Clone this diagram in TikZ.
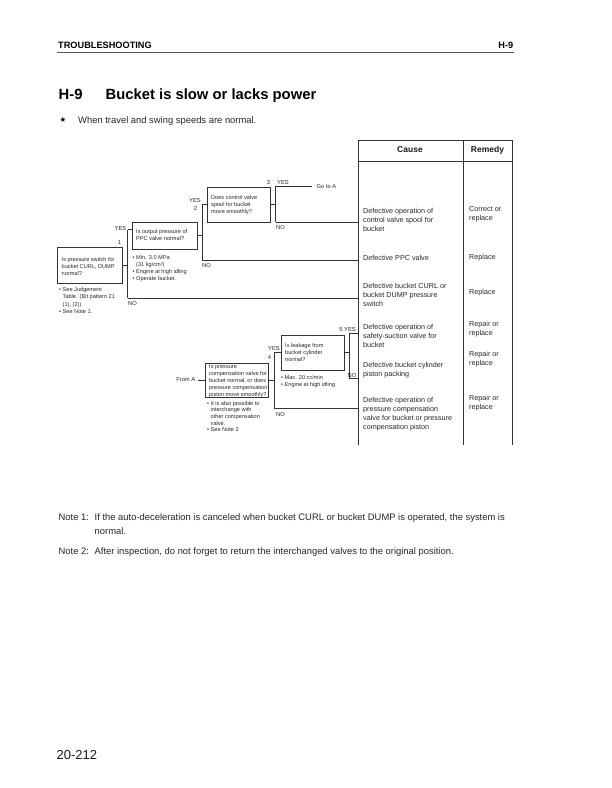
\documentclass[tikz,border=0pt]{standalone}
\usepackage{fontspec}
\setmainfont{Liberation Sans}
\newfontfamily\symfont{DejaVu Sans}
\begin{document}
\begin{tikzpicture}[x=1pt,y=-1pt,
  qbox/.style={draw=black!80, line width=0.9pt, inner sep=0pt},
  qtext/.style={anchor=north west, inner sep=0pt, align=left, font=\fontsize{5.6}{7}\selectfont, text=black!85},
  lbl/.style={inner sep=0pt, font=\fontsize{5.8}{7}\selectfont, text=black!85},
  conn/.style={draw=black!80, line width=0.7pt},
  tabline/.style={draw=black!80, line width=0.8pt},
  cause/.style={anchor=north west, inner sep=0pt, align=left, font=\fontsize{7.2}{9}\selectfont, text=black!85},
  body/.style={anchor=base west, inner sep=0pt, font=\fontsize{9.4}{14}\selectfont, text=black!85},
  bhead/.style={anchor=base, inner sep=0pt, font=\bfseries\fontsize{8.5}{10}\selectfont, text=black!90}
]
\useasboundingbox (0,0) rectangle (612,788);

% ---------- page header ----------
\node[anchor=base west, inner sep=0pt, font=\bfseries\fontsize{9.2}{11}\selectfont] (hdl) at (58,48.7) {TROUBLESHOOTING};
\node[anchor=base east, inner sep=0pt, font=\bfseries\fontsize{9.2}{11}\selectfont] (hdr) at (513.5,48.7) {H-9};
\draw[line width=1.6pt, black!65] (57,52.5) -- (514,52.5);

% ---------- title ----------
\node[anchor=base west, inner sep=0pt, font=\bfseries\fontsize{14.8}{17}\selectfont] (tnum) at (58.5,99.2) {H-9};
\node[anchor=base west, inner sep=0pt, font=\bfseries\fontsize{14.8}{17}\selectfont] (ttl) at (105.5,99.2) {Bucket is slow or lacks power};
\node[anchor=base west, inner sep=0pt, font=\symfont\fontsize{7.5}{8}\selectfont] (star) at (59.5,122.8) {★};
\node[body] (cond) at (78,123.3) {When travel and swing speeds are normal.};

% ---------- table ----------
\coordinate (tabL) at (358,140.5);
\draw[tabline] (358,445) -- (tabL) -- (512.5,140.5) -- (512.5,445);
\draw[tabline] (463.5,140.5) -- (463.5,445);
\draw[tabline] (358,161.5) -- (512.5,161.5);
\node[bhead] (hcause) at (410,152.6) {Cause};
\node[bhead] (hrem) at (487.5,152.6) {Remedy};

\node[cause] (c1) at (363,208.3) {Defective operation of\\control valve spool for\\bucket};
\node[cause] (c2) at (363,255.3) {Defective PPC valve};
\node[cause] (c3) at (363,283.3) {Defective bucket CURL or\\bucket DUMP pressure\\switch};
\node[cause] (c4) at (363,324.3) {Defective operation of\\safety-suction valve for\\bucket};
\node[cause] (c5) at (363,362.3) {Defective bucket cylinder\\piston packing};
\node[cause] (c6) at (363,397.3) {Defective operation of\\pressure compensation\\valve for bucket or pressure\\compensation piston};

\node[cause] (r1) at (469,206.3) {Correct or\\replace};
\node[cause] (r2) at (469,254.3) {Replace};
\node[cause] (r3) at (469,289.3) {Replace};
\node[cause] (r4) at (469,321.3) {Repair or\\replace};
\node[cause] (r5) at (469,351.3) {Repair or\\replace};
\node[cause] (r6) at (469,395.3) {Repair or\\replace};

% ---------- question boxes ----------
\node[qbox, minimum width=65, minimum height=36] (b1) at (89.5,265) {};
\node[qtext] (b1t) at (61.5,256.9) {Is pressure switch for\\bucket CURL, DUMP\\normal?};
\node[qtext, font=\fontsize{5.6}{7.5}\selectfont] (b1n) at (59,286.9) {\textbullet\ See Judgement\\\phantom{\textbullet\ }Table. (Bit pattern 21\\\phantom{\textbullet\ }(1), (2))\\\textbullet\ See Note 1.};

\node[qbox, minimum width=65, minimum height=27] (b2) at (164.5,235.5) {};
\node[qtext] (b2t) at (136,228.9) {Is output pressure of\\PPC valve normal?};
\node[qtext] (b2n) at (132.5,254.9) {\textbullet\ Min. 3.0 MPa\\\phantom{\textbullet\ }(31 kg/cm²)\\\textbullet\ Engine at high idling\\\textbullet\ Operate bucket.};

\node[qbox, minimum width=63, minimum height=35] (b3) at (238.5,204.5) {};
\node[qtext] (b3t) at (211,194.9) {Does control valve\\spool for bucket\\move smoothly?};

\node[qbox, minimum width=63, minimum height=34] (b4) at (236.5,380) {};
\node[qtext, font=\fontsize{5.6}{6.8}\selectfont] (b4t) at (209,364.9) {Is pressure\\compensation valve for\\bucket normal, or does\\pressure compensation\\piston move smoothly?};
\node[qtext, font=\fontsize{5.6}{6.7}\selectfont] (b4n) at (207,400.9) {\textbullet\ It is also possible to\\\phantom{\textbullet\ }interchange with\\\phantom{\textbullet\ }other compensation\\\phantom{\textbullet\ }valve.\\\textbullet\ See Note 2};

\node[qbox, minimum width=63, minimum height=35] (b5) at (312.5,352.5) {};
\node[qtext] (b5t) at (285,342.9) {Is leakage from\\bucket cylinder\\normal?};
\node[qtext, font=\fontsize{5.6}{7.5}\selectfont] (b5n) at (281,374.9) {\textbullet\ Max. 20 cc/min\\\textbullet\ Engine at high idling};

% ---------- connectors: upper tree ----------
\coordinate (v1t) at (127.5,229.5);
\coordinate (v1b) at (127.5,298);
\draw[conn] (b1.east) -- (b1.east -| v1t);
\draw[conn] (v1t) -- (v1b);
\draw[conn] (v1t) -- (v1t -| b2.west);
\draw[conn] (v1b) -- (v1b -| tabL);

\coordinate (v2t) at (202,204.5);
\coordinate (v2b) at (202,260.5);
\draw[conn] (b2.east) -- (b2.east -| v2t);
\draw[conn] (v2t) -- (v2b);
\draw[conn] (v2t) -- (b3.west);
\draw[conn] (v2b) -- (v2b -| tabL);

\coordinate (v3t) at (275.5,186);
\coordinate (v3b) at (275.5,222);
\coordinate (ga) at (312,186);
\draw[conn] (b3.east) -- (b3.east -| v3t);
\draw[conn] (v3t) -- (v3b);
\draw[conn] (v3t) -- (ga);
\draw[conn] (v3b) -- (v3b -| tabL);
\node[lbl, anchor=west] (gotoa) at (316.5,186) {Go to A};

% ---------- connectors: lower tree ----------
\node[lbl, anchor=east] (froma) at (195.5,380) {From A};
\draw[conn] ([xshift=2pt]froma.east) -- (b4.west);

\coordinate (v4t) at (274,352.5);
\coordinate (v4b) at (274,408.5);
\draw[conn] (b4.east) -- (b4.east -| v4t);
\draw[conn] (v4t) -- (v4b);
\draw[conn] (v4t) -- (b5.west);
\draw[conn] (v4b) -- (v4b -| tabL);

\coordinate (v5t) at (349,333.5);
\coordinate (v5b) at (349,378.5);
\draw[conn] (b5.east) -- (b5.east -| v5t);
\draw[conn] (v5t) -- (v5b);
\draw[conn] (v5t) -- (v5t -| tabL);
\draw[conn] (v5b) -- (v5b -| tabL);

% ---------- branch labels ----------
\node[lbl] (n1) at (119.5,242) {1};
\node[lbl, anchor=east] (y1) at (126.5,228) {YES};
\node[lbl, anchor=west] (no1) at (128,303.5) {NO};
\node[lbl, anchor=east] (y2) at (201,200.5) {YES};
\node[lbl] (n2) at (195.5,208) {2};
\node[lbl, anchor=west] (no2) at (202,265.5) {NO};
\node[lbl] (n3) at (268.5,182) {3};
\node[lbl, anchor=west] (y3) at (277,182) {YES};
\node[lbl, anchor=west] (no3) at (276,227) {NO};
\node[lbl, anchor=east] (y4) at (280,348.5) {YES};
\node[lbl] (n4) at (269.5,357) {4};
\node[lbl, anchor=west] (no4) at (276,414) {NO};
\node[lbl, anchor=east] (y5) at (356,329.5) {5 YES};
\node[lbl, anchor=east] (no5) at (356.5,375) {NO};

% ---------- notes ----------
\node[body] (nt1l) at (58.5,520.2) {Note 1:};
\node[body] (nt1) at (94.5,520.2) {If the auto-deceleration is canceled when bucket CURL or bucket DUMP is operated, the system is};
\node[body] (nt1b) at (94.5,534.2) {normal.};
\node[body] (nt2l) at (58.5,554.2) {Note 2:};
\node[body] (nt2) at (94.5,554.2) {After inspection, do not forget to return the interchanged valves to the original position.};

\node[anchor=base west, inner sep=0pt, font=\fontsize{13}{15}\selectfont, text=black!90] (pg) at (56.5,759.5) {20-212};
\end{tikzpicture}
\end{document}
